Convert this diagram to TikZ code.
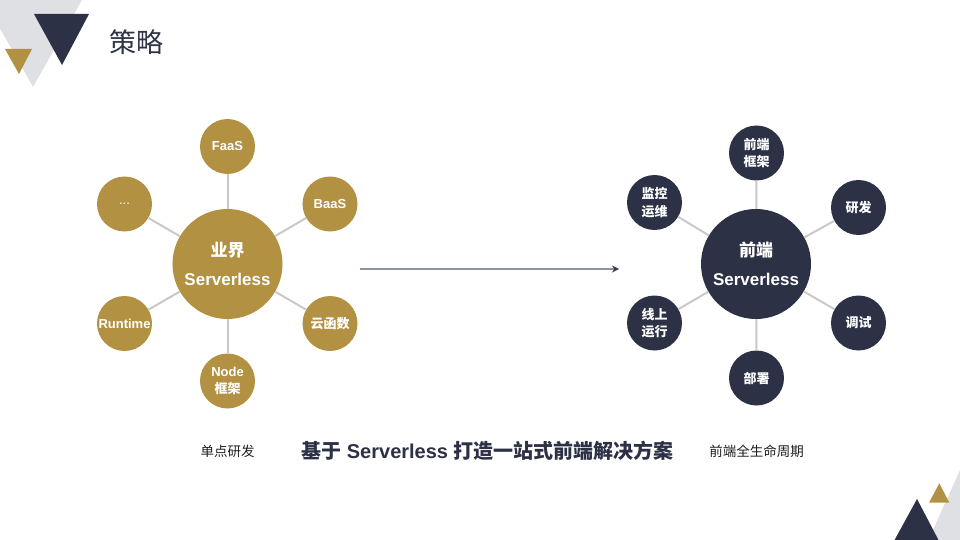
\documentclass[tikz,border=0pt]{standalone}
\usepackage{fontspec}
\setmainfont{Liberation Sans}
\newfontfamily\cjk{Noto Sans CJK SC}
\usetikzlibrary{arrows.meta}
\definecolor{gold}{HTML}{B39143}
\definecolor{navy}{HTML}{2C3145}
\definecolor{conn}{HTML}{C9C9C9}
\definecolor{titlec}{HTML}{2F3344}
\definecolor{decoshade}{HTML}{DFE0E3}
\definecolor{arrowc}{HTML}{8E93A0}
\definecolor{tipc}{HTML}{3A3F50}
\definecolor{smalltext}{HTML}{1E1E1E}
\begin{document}
\begin{tikzpicture}[x=1pt,y=-1pt,
  hub/.style={circle, minimum size=110pt, inner sep=0pt, text=white, align=center,
    font=\bfseries\fontsize{17}{29}\selectfont},
  sat/.style={circle, minimum size=55pt, inner sep=0pt, text=white, align=center,
    font=\bfseries\fontsize{13}{17.5}\selectfont},
  satcjk/.style={sat, font=\cjk\bfseries\fontsize{13}{17.5}\selectfont},
  link/.style={draw=conn, line width=2pt},
  label/.style={inner sep=0pt, text=smalltext, font=\cjk\fontsize{13.5}{16}\selectfont}
]
\useasboundingbox (0,0) rectangle (960,540);
\fill[white] (0,0) rectangle (960,540);

% top-left decoration
\fill[decoshade] (-16,0) -- (82,0) -- (33,87) -- cycle;
\fill[navy] (34,14) -- (89,14) -- (62,65) -- cycle;
\fill[gold] (5,49) -- (32,49) -- (19,74) -- cycle;

% bottom-right decoration
\fill[decoshade] (960,470) -- (928,541) -- (961,541) -- cycle;
\fill[navy] (894,541) -- (939,541) -- (917,499) -- cycle;
\fill[gold] (929,502.7) -- (949.3,502.7) -- (939.3,483.3) -- cycle;

% title
\node[anchor=west, inner sep=0pt, text=titlec, font=\cjk\fontsize{27}{30}\selectfont] (title) at (109,42) {策略};

% left cluster
\node[hub, fill=gold] (L) at (227.5,264) {{\cjk 业界}\\Serverless};
\node[sat, fill=gold] (l1) at (227.5,146.5) {FaaS};
\node[sat, fill=gold] (l2) at (330,204) {BaaS};
\node[satcjk, fill=gold] (l3) at (330,323.5) {云函数};
\node[sat, fill=gold] (l4) at (227.5,381) {Node\\{\cjk 框架}};
\node[sat, fill=gold] (l5) at (124.5,323.5) {Runtime};
\node[sat, fill=gold] (l6) at (124.5,204) {\mdseries ...};
\foreach \s in {l1,l2,l3,l4,l5,l6} \draw[link] (L) -- (\s);

% right cluster
\node[hub, fill=navy] (R) at (756,264) {{\cjk 前端}\\Serverless};
\node[satcjk, fill=navy] (r1) at (756.5,153) {前端\\框架};
\node[satcjk, fill=navy] (r2) at (858.5,207.5) {研发};
\node[satcjk, fill=navy] (r3) at (858.5,323) {调试};
\node[satcjk, fill=navy] (r4) at (756.5,378) {部署};
\node[satcjk, fill=navy] (r5) at (654.5,323) {线上\\运行};
\node[satcjk, fill=navy] (r6) at (654.5,202.5) {监控\\运维};
\foreach \s in {r1,r2,r3,r4,r5,r6} \draw[link] (R) -- (\s);

% arrow
\coordinate (a1) at (360,269);
\coordinate (a2) at (619,269);
\draw[draw=arrowc, line width=1.3pt, -{Stealth[length=7pt,width=7pt,color=tipc]}] (a1) -- (a2);

% bottom labels
\node[label] (b1) at (227.5,451) {单点研发};
\node[inner sep=0pt, text=navy, font=\bfseries\fontsize{20}{22}\selectfont] (b2) at (487.5,451) {{\cjk 基于} Serverless {\cjk 打造一站式前端解决方案}};
\node[label] (b3) at (756.5,451) {前端全生命周期};
\end{tikzpicture}
\end{document}
